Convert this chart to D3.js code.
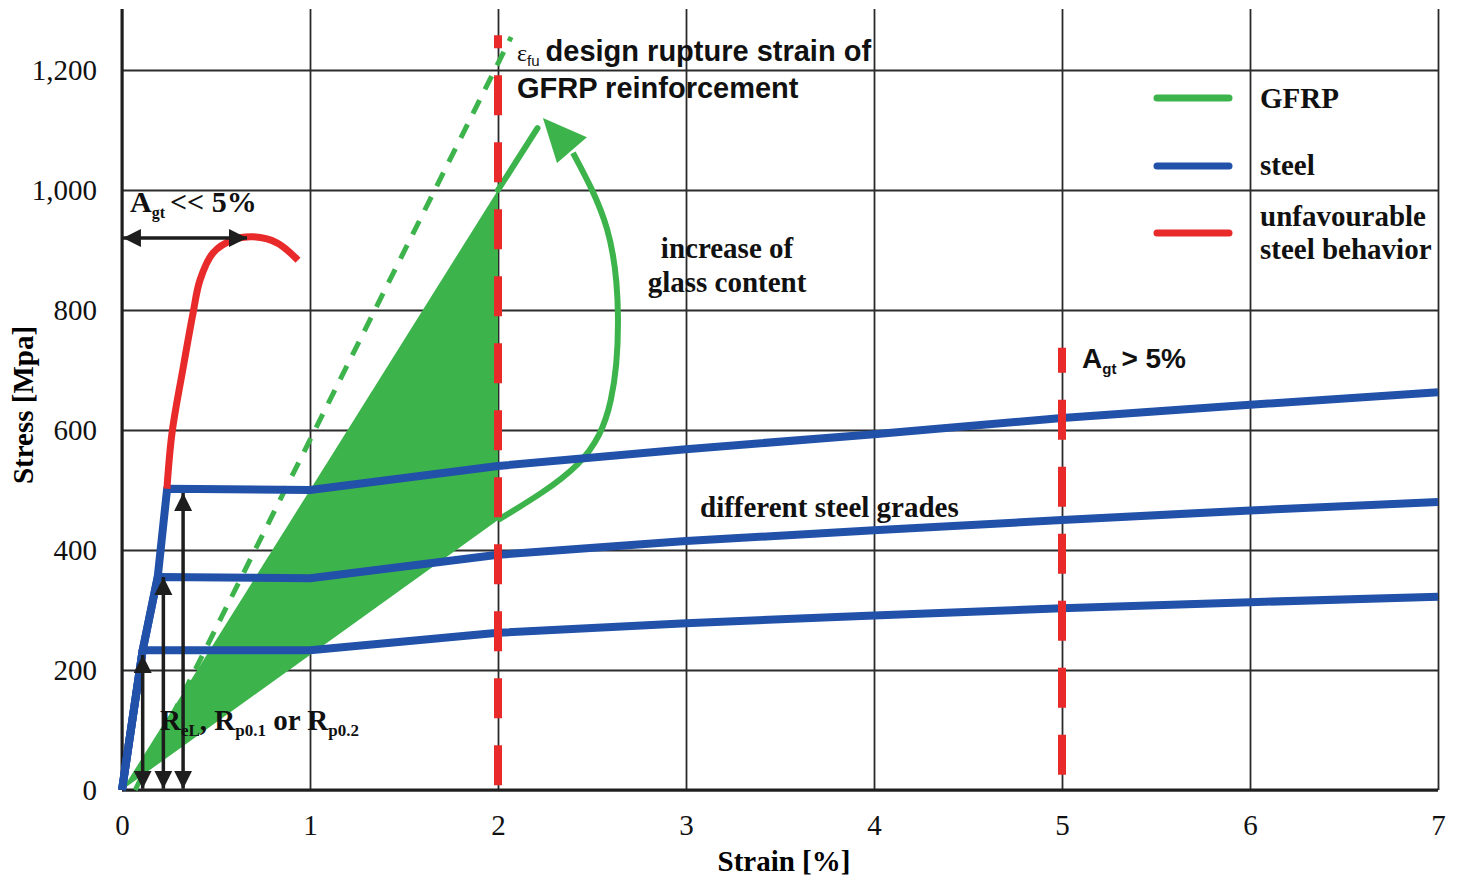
<!DOCTYPE html>
<html lang="en">
<head>
    <meta charset="UTF-8">
    <title>Stress-strain GFRP vs steel</title>
    <style>
        body { margin: 0; background: #fff; }
        svg { display: block; }
        .serif { font-family: "Liberation Serif", "Times New Roman", serif; }
        .sans { font-family: "Liberation Sans", Arial, sans-serif; }
        .grid line { stroke: #2b2b2b; stroke-width: 1.8; }
        .grid path { display: none; }
        .grid text { font-family: "Liberation Serif", serif; font-size: 29px; fill: #111; }
    </style>
</head>
<body>
<script src="https://cdnjs.cloudflare.com/ajax/libs/d3/7.8.5/d3.min.js"></script>
<script>
// tick labels
const strainTicks = [0, 1, 2, 3, 4, 5, 6, 7];
const stressTicks = [0, 200, 400, 600, 800, 1000, 1200];

// steel grades [strain %, stress MPa]
const steelLow  = [[0, 0], [0.11, 233], [1, 233], [2, 262], [3, 278], [4, 291], [5, 303], [6, 313], [7, 322]];
const steelMid  = [[0, 0], [0.11, 233], [0.19, 355], [1, 353], [2, 392], [3, 415], [4, 433], [5, 450], [6, 466], [7, 480]];
const steelHigh = [[0, 0], [0.11, 233], [0.19, 355], [0.24, 502], [1, 500], [2, 540], [3, 568], [4, 593], [5, 620], [6, 642], [7, 663]];

// unfavourable steel
const steelBad = [[0.239, 502], [0.266, 595], [0.326, 705], [0.378, 795], [0.415, 850], [0.484, 895],
                  [0.59, 917], [0.697, 922], [0.824, 912], [0.936, 883]];

// GFRP
const gfrpZone = [[0, 0], [2, 1000], [2, 450]];
const gfrpUpper = [[2, 1000], [2.21, 1103]];
const gfrpDashed = [[0.07, 0], [2.07, 1255]];
const glassArc = [[2.0, 450], [2.42, 542], [2.6, 650], [2.638, 790], [2.58, 935], [2.399, 1062]];
const glassArrowHead = [[2.239, 1120], [2.314, 1045], [2.473, 1088]];

// rupture / limit markers
const ruptureLines = [[2, 1258, 27], [5, 737, 15]]; // strain, top stress, dash offset

// yield arrows (strain, top stress) and Agt arrow
const yieldArrows = [[0.11, 225], [0.22, 355], [0.325, 495]];
const agtArrow = [[0.005, 920], [0.665, 920]];

const legendItems = [["GFRP", "#3cb44b", 98], ["steel", "#2151a8", 166], ["unfavourable", "#e82a2a", 233]];

const W = 1457, H = 877;
const green = "#3cb44b", blue = "#2151a8", red = "#e82a2a", black = "#1e1e1e";

const x = d3.scaleLinear().domain([0, 7]).range([122, 1438]);
const y = d3.scaleLinear().domain([0, 1300]).range([790, 10]);

const svg = d3.select("body").append("svg").attr("width", W).attr("height", H);

const defs = svg.append("defs");
defs.append("marker")
    .attr("id", "arr")
    .attr("viewBox", "0 0 10 10")
    .attr("refX", 10).attr("refY", 5)
    .attr("markerUnits", "userSpaceOnUse")
    .attr("markerWidth", 18).attr("markerHeight", 20)
    .attr("orient", "auto-start-reverse")
    .append("path").attr("d", "M0,0L10,5L0,10z").attr("fill", black);

// grid
svg.append("g").attr("class", "grid")
    .attr("transform", "translate(0,790)")
    .call(d3.axisBottom(x).tickValues(strainTicks).tickSize(-781).tickPadding(24).tickFormat(d3.format("d")));
svg.append("g").attr("class", "grid")
    .attr("transform", "translate(122,0)")
    .call(d3.axisLeft(y).tickValues(stressTicks).tickSize(-1316).tickPadding(25).tickFormat(d3.format(",")));

// main axes
svg.append("line").attr("x1", x(0)).attr("x2", x(0)).attr("y1", 9).attr("y2", y(0))
    .attr("stroke", black).attr("stroke-width", 3);
svg.append("line").attr("x1", x(0)).attr("x2", x(7)).attr("y1", y(0)).attr("y2", y(0))
    .attr("stroke", black).attr("stroke-width", 3);

const line = d3.line().x(d => x(d[0])).y(d => y(d[1]));
const smooth = d3.line().x(d => x(d[0])).y(d => y(d[1])).curve(d3.curveCatmullRom.alpha(0.5));
const arcLine = d3.line().x(d => x(d[0])).y(d => y(d[1])).curve(d3.curveNatural);

// GFRP zone
svg.append("path").attr("d", line(gfrpZone) + "Z").attr("fill", green);
svg.append("path").attr("d", line(gfrpUpper)).attr("stroke", green).attr("stroke-width", 6)
    .attr("fill", "none").attr("stroke-linecap", "round");
svg.append("path").attr("d", line(gfrpDashed)).attr("stroke", green).attr("stroke-width", 5)
    .attr("fill", "none").attr("stroke-dasharray", "15,12");
svg.append("path").attr("d", arcLine(glassArc)).attr("stroke", green).attr("stroke-width", 6)
    .attr("fill", "none");
svg.append("path").attr("d", line(glassArrowHead) + "Z").attr("fill", green);

// steel
[steelLow, steelMid, steelHigh].forEach(s => {
    svg.append("path").attr("d", line(s)).attr("stroke", blue).attr("stroke-width", 8)
        .attr("fill", "none").attr("stroke-linejoin", "round");
});
svg.append("path").attr("d", smooth(steelBad)).attr("stroke", red).attr("stroke-width", 7)
    .attr("fill", "none").attr("stroke-linecap", "butt");

// rupture lines
ruptureLines.forEach(r => {
    svg.append("line").attr("x1", x(r[0])).attr("x2", x(r[0])).attr("y1", y(r[1])).attr("y2", y(0))
        .attr("stroke", red).attr("stroke-width", 8)
        .attr("stroke-dasharray", "40,27").attr("stroke-dashoffset", r[2]);
});

// arrows
yieldArrows.forEach(a => {
    svg.append("line").attr("x1", x(a[0])).attr("x2", x(a[0])).attr("y1", y(2)).attr("y2", y(a[1]))
        .attr("stroke", black).attr("stroke-width", 3.5)
        .attr("marker-start", "url(#arr)").attr("marker-end", "url(#arr)");
});
svg.append("line").attr("x1", x(agtArrow[0][0])).attr("x2", x(agtArrow[1][0]))
    .attr("y1", y(agtArrow[0][1])).attr("y2", y(agtArrow[1][1]))
    .attr("stroke", black).attr("stroke-width", 3.5)
    .attr("marker-start", "url(#arr)").attr("marker-end", "url(#arr)");

// legend
legendItems.forEach(l => {
    svg.append("line").attr("x1", 1157).attr("x2", 1229).attr("y1", l[2]).attr("y2", l[2])
        .attr("stroke", l[1]).attr("stroke-width", 7).attr("stroke-linecap", "round");
});
const lg = svg.append("g").attr("class", "serif").attr("font-weight", "bold").attr("font-size", 29).attr("fill", "#111");
lg.append("text").attr("x", 1260).attr("y", 108).text("GFRP");
lg.append("text").attr("x", 1260).attr("y", 175).text("steel");
lg.append("text").attr("x", 1260).attr("y", 226).text("unfavourable");
lg.append("text").attr("x", 1260).attr("y", 259).text("steel behavior");

// axis titles
svg.append("text").attr("class", "serif").attr("x", 784).attr("y", 871)
    .attr("text-anchor", "middle").attr("font-weight", "bold").attr("font-size", 29).text("Strain [%]");
svg.append("text").attr("class", "serif").attr("transform", "translate(33,405) rotate(-90)")
    .attr("text-anchor", "middle").attr("font-weight", "bold").attr("font-size", 29).text("Stress [Mpa]");

// annotations
const ann = svg.append("g").attr("fill", "#111");

const agt1 = ann.append("text").attr("class", "serif").attr("x", 130).attr("y", 212)
    .attr("font-weight", "bold").attr("font-size", 30);
agt1.append("tspan").text("A");
agt1.append("tspan").attr("font-size", 16).attr("dy", 6).text("gt");
agt1.append("tspan").attr("dy", -6).attr("dx", 5).text("<< 5%");

const eps = ann.append("text").attr("x", 517).attr("y", 61);
eps.append("tspan").attr("class", "serif").attr("font-size", 24).text("ε");
eps.append("tspan").attr("class", "sans").attr("font-size", 15).attr("dy", 5).text("fu");
eps.append("tspan").attr("class", "sans").attr("font-size", 29).attr("font-weight", "bold")
    .attr("dy", -5).attr("dx", 6).text("design rupture strain of");
ann.append("text").attr("class", "sans").attr("x", 517).attr("y", 98)
    .attr("font-size", 29).attr("font-weight", "bold").text("GFRP reinforcement");

ann.append("text").attr("class", "serif").attr("x", 727).attr("y", 258).attr("text-anchor", "middle")
    .attr("font-size", 29).attr("font-weight", "bold").text("increase of");
ann.append("text").attr("class", "serif").attr("x", 727).attr("y", 292).attr("text-anchor", "middle")
    .attr("font-size", 29).attr("font-weight", "bold").text("glass content");

const agt2 = ann.append("text").attr("class", "sans").attr("x", 1082).attr("y", 368)
    .attr("font-weight", "bold").attr("font-size", 28);
agt2.append("tspan").text("A");
agt2.append("tspan").attr("font-size", 15).attr("dy", 6).text("gt");
agt2.append("tspan").attr("dy", -6).attr("dx", 5).text("> 5%");

ann.append("text").attr("class", "serif").attr("x", 700).attr("y", 517)
    .attr("font-size", 29).attr("font-weight", "bold").text("different steel grades");

const rel = ann.append("text").attr("class", "serif").attr("x", 160).attr("y", 730)
    .attr("font-weight", "bold").attr("font-size", 29);
rel.append("tspan").text("R");
rel.append("tspan").attr("font-size", 17).attr("dy", 6).text("eL");
rel.append("tspan").attr("dy", -6).text(", R");
rel.append("tspan").attr("font-size", 17).attr("dy", 6).text("p0.1");
rel.append("tspan").attr("dy", -6).text(" or R");
rel.append("tspan").attr("font-size", 17).attr("dy", 6).text("p0.2");
</script>
</body>
</html>
